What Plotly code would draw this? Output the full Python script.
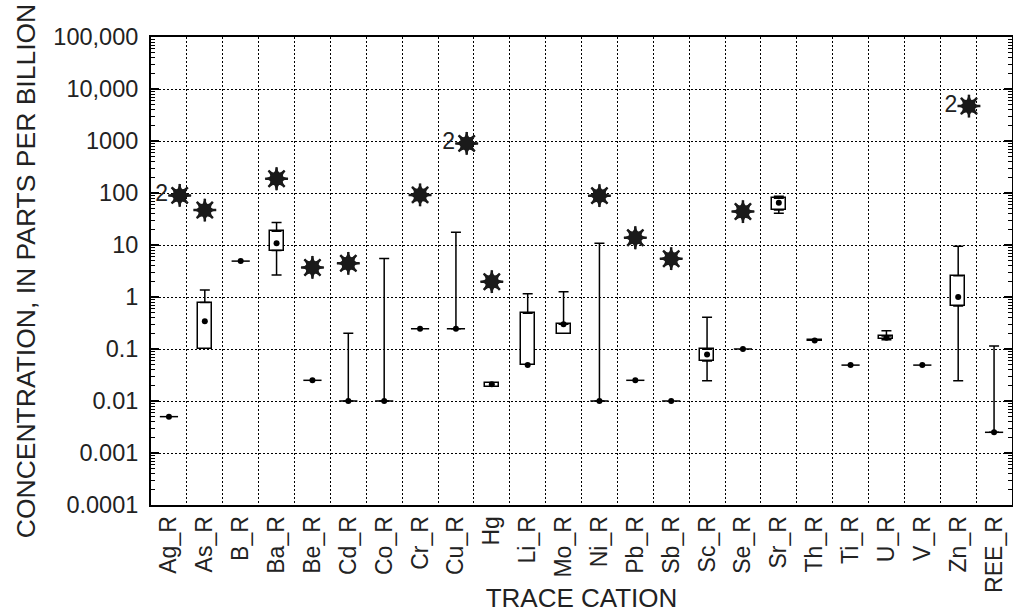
import plotly.graph_objects as go

categories = ["Ag_R", "As_R", "B_R", "Ba_R", "Be_R", "Cd_R", "Co_R", "Cr_R", "Cu_R", "Hg",
              "Li_R", "Mo_R", "Ni_R", "Pb_R", "Sb_R", "Sc_R", "Se_R", "Sr_R", "Th_R", "Ti_R",
              "U_R", "V_R", "Zn_R", "REE_R"]

median = [0.005, 0.34, 4.9, 10.8, 0.025, 0.01, 0.01, 0.245, 0.245, 0.021,
          0.049, 0.3, 0.01, 0.025, 0.01, 0.078, 0.1, 65, 0.145, 0.049,
          0.165, 0.049, 1.0, 0.0025]
q1 = [0.005, 0.1, 4.9, 7.8, 0.025, 0.01, 0.01, 0.245, 0.245, 0.019,
      0.049, 0.194, 0.01, 0.025, 0.01, 0.059, 0.1, 47, 0.14, 0.049,
      0.153, 0.049, 0.67, 0.0025]
q3 = [0.005, 0.78, 4.9, 18.3, 0.025, 0.01, 0.01, 0.245, 0.245, 0.022,
      0.485, 0.3, 0.01, 0.025, 0.01, 0.099, 0.1, 79, 0.15, 0.049,
      0.178, 0.049, 2.57, 0.0025]
whisker_hi = [0.005, 1.36, 4.9, 27, 0.025, 0.2, 5.5, 0.245, 17.5, 0.022,
              1.16, 1.26, 10.8, 0.025, 0.01, 0.41, 0.1, 87, 0.15, 0.049,
              0.225, 0.049, 9.5, 0.114]
whisker_lo = [0.005, 0.1, 4.9, 2.65, 0.025, 0.01, 0.01, 0.245, 0.245, 0.019,
              0.049, 0.194, 0.01, 0.025, 0.01, 0.0245, 0.1, 41, 0.14, 0.049,
              0.15, 0.049, 0.0245, 0.0025]
outlier = [90, 47, None, 188, 3.7, 4.45, None, 92, 900, 1.97,
           None, None, 89, 13.8, 5.45, None, 44, None, None, None,
           None, None, 4700, None]
outlier_count = [2, 1, 0, 1, 1, 1, 0, 1, 2, 1,
                 0, 0, 1, 1, 1, 0, 1, 0, 0, 0,
                 0, 0, 2, 0]

y_tickvals = [0.0001, 0.001, 0.01, 0.1, 1, 10, 100, 1000, 10000, 100000]
y_ticktext = ["0.0001", "0.001", "0.01", "0.1", "1", "10", "100", "1000", "10,000", "100,000"]

FONT = "Liberation Sans, Arial, sans-serif"
TXT = "#222222"
STAR = "#1a1a1a"
n = len(categories)
xs = list(range(n))
BOXW = 0.39

fig = go.Figure()

# boxes (interquartile range)
bar_y = [(b - a) if b > a else None for a, b in zip(q1, q3)]
fig.add_trace(go.Bar(x=xs, y=bar_y, base=q1, width=BOXW,
                     marker=dict(color="white", line=dict(color="black", width=1.5)),
                     hoverinfo="skip", showlegend=False))

# upper whiskers
up_y = [b if h > b else None for b, h in zip(q3, whisker_hi)]
up_err = [h - b if h > b else 0 for b, h in zip(q3, whisker_hi)]
fig.add_trace(go.Scatter(x=xs, y=up_y, mode="markers",
                         marker=dict(size=1, color="rgba(0,0,0,0)"),
                         error_y=dict(type="data", symmetric=False, array=up_err,
                                      arrayminus=[0] * n, width=5, thickness=1.5, color="black"),
                         hoverinfo="skip", showlegend=False))
# lower whiskers
lo_y = [a if l < a else None for a, l in zip(q1, whisker_lo)]
lo_err = [a - l if l < a else 0 for a, l in zip(q1, whisker_lo)]
fig.add_trace(go.Scatter(x=xs, y=lo_y, mode="markers",
                         marker=dict(size=1, color="rgba(0,0,0,0)"),
                         error_y=dict(type="data", symmetric=False, array=[0] * n,
                                      arrayminus=lo_err, width=5, thickness=1.5, color="black"),
                         hoverinfo="skip", showlegend=False))

# collapsed boxes shown as a short dash
dash_y = [m if a == b else None for m, a, b in zip(median, q1, q3)]
fig.add_trace(go.Scatter(x=xs, y=dash_y, mode="markers",
                         marker=dict(symbol="line-ew", size=13, color="black",
                                     line=dict(color="black", width=1.5)),
                         hoverinfo="skip", showlegend=False))

# medians
fig.add_trace(go.Scatter(x=xs, y=median, mode="markers",
                         marker=dict(symbol="circle", size=6, color="black"),
                         hoverinfo="skip", showlegend=False))

# outliers: eight-pointed stars (asterisk rays + two rotated 4-point stars)
ox = [i + (0.3 if c > 1 else 0) for i, c in zip(xs, outlier_count)]
fig.add_trace(go.Scatter(x=ox, y=outlier, mode="markers",
                         marker=dict(symbol="asterisk-open", size=19, color=STAR,
                                     line=dict(color=STAR, width=2.5)),
                         hoverinfo="skip", showlegend=False))
for ang in [0, 45]:
    fig.add_trace(go.Scatter(x=ox, y=outlier, mode="markers",
                             marker=dict(symbol="star-diamond", size=17, angle=ang,
                                         color=STAR, line=dict(width=0)),
                             hoverinfo="skip", showlegend=False))
# outlier counts
otext = [str(c) if c > 1 else "" for c in outlier_count]
fig.add_trace(go.Scatter(x=ox, y=outlier, mode="markers+text", text=otext,
                         textposition="middle left",
                         marker=dict(size=17, color="rgba(0,0,0,0)"),
                         textfont=dict(family=FONT, size=23, color=TXT),
                         hoverinfo="skip", showlegend=False))

minor_y = [m * 10 ** k for k in range(-4, 5) for m in range(2, 10)]

fig.update_layout(
    width=1013, height=613,
    margin=dict(l=151, r=1, t=37, b=108),
    paper_bgcolor="white", plot_bgcolor="white",
    font=dict(family=FONT, size=23, color=TXT),
    bargap=0,
    xaxis=dict(
        range=[-0.5, n - 0.5], automargin=False,
        tickmode="array", tickvals=xs, ticktext=categories,
        tickangle=-90, ticks="", showgrid=False, zeroline=False,
        showline=True, linecolor="black", linewidth=2, mirror=True,
        tickfont=dict(family=FONT, size=23, color=TXT),
        minor=dict(tickmode="linear", tick0=0.5, dtick=1, showgrid=True,
                   griddash="2px,2px", gridcolor="black", gridwidth=1, ticks=""),
        title=dict(text="TRACE CATION", font=dict(family=FONT, size=26, color=TXT), standoff=4),
    ),
    yaxis=dict(
        type="log", range=[-4, 5], automargin=False,
        tickmode="array", tickvals=y_tickvals, ticktext=y_ticktext,
        ticks="inside", ticklen=8, tickwidth=1.5, tickcolor="black",
        showgrid=True, griddash="2px,2px", gridcolor="black", gridwidth=1,
        showline=True, linecolor="black", linewidth=2, mirror="ticks",
        zeroline=False, ticklabelstandoff=6,
        tickfont=dict(family=FONT, size=23.5, color=TXT),
        minor=dict(tickmode="array", tickvals=minor_y, ticks="inside", ticklen=4,
                   tickwidth=1, tickcolor="black", showgrid=False),
        title=dict(text="CONCENTRATION, IN PARTS PER BILLION",
                   font=dict(family=FONT, size=26.5, color=TXT), standoff=10),
    ),
)

fig.write_html("out.html", config={"displayModeBar": False},
               post_script="document.body.style.margin='0';")
